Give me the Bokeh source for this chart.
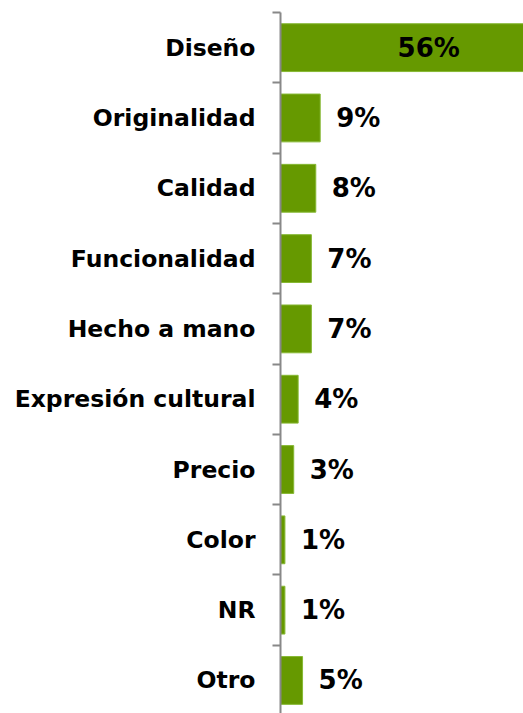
from bokeh.plotting import figure
from bokeh.models import ColumnDataSource, Range1d, FixedTicker
from bokeh.embed import file_html
from bokeh.resources import INLINE
from bokeh.core.properties import value

categories = ["Diseño", "Originalidad", "Calidad", "Funcionalidad", "Hecho a mano",
              "Expresión cultural", "Precio", "Color", "NR", "Otro"]
values = [56, 9, 8, 7, 7, 4, 3, 1, 1, 5]
labels = ["56%", "9%", "8%", "7%", "7%", "4%", "3%", "1%", "1%", "5%"]

ypos = list(range(len(categories)))
inside = [v > 30 for v in values]
lab_x = [v * 0.6 if ins else v for v, ins in zip(values, inside)]
lab_align = ["center" if ins else "left" for ins in inside]
lab_off = [0 if ins else 16 for ins in inside]

src = ColumnDataSource(dict(y=ypos, v=values, lx=lab_x, la=lab_align, lo=lab_off, t=labels))

p = figure(width=523, height=713, output_backend="svg", toolbar_location=None,
           x_range=Range1d(0, 55.1), y_range=Range1d(9.47, -0.5),
           min_border_left=280, min_border_right=0, min_border_top=12, min_border_bottom=0)
p.outline_line_color = None
p.xgrid.visible = False
p.ygrid.visible = False
p.xaxis.visible = False

p.hbar(y="y", right="v", left=0, height=0.68, source=src,
       fill_color="#669900", line_color="#86b833", line_width=1)

p.text(x="lx", y="y", text="t", source=src, text_align="la", x_offset="lo",
       text_baseline="middle", text_font=value("DejaVu Sans"), text_font_style="bold",
       text_font_size="26px", text_color="#000000")

ax = p.yaxis[0]
ax.ticker = FixedTicker(ticks=ypos, minor_ticks=[i - 0.5 for i in range(len(categories) + 1)])
ax.major_label_overrides = {i: c for i, c in zip(ypos, categories)}
ax.major_tick_out = 0
ax.major_tick_in = 0
ax.minor_tick_out = 8
ax.minor_tick_in = 0
ax.minor_tick_line_color = "#888888"
ax.minor_tick_line_width = 2
ax.axis_line_color = "#888888"
ax.axis_line_width = 2
ax.major_label_standoff = 17
ax.major_label_text_font = "DejaVu Sans"
ax.major_label_text_font_style = "bold"
ax.major_label_text_font_size = "23.5px"
ax.major_label_text_color = "#000000"

open("out.html", "w").write(file_html(p, INLINE))
